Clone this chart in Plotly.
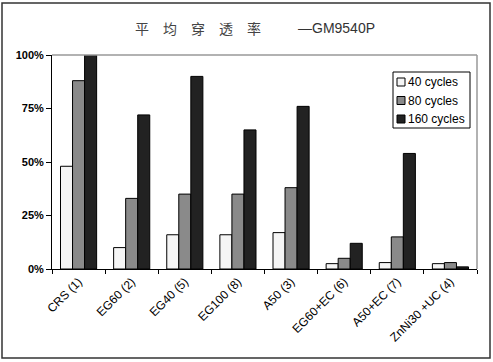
import plotly.graph_objects as go

categories = ["CRS (1)", "EG60 (2)", "EG40 (5)", "EG100 (8)", "A50 (3)",
              "EG60+EC (6)", "A50+EC (7)", "ZnNi30 +UC (4)"]
series_names = ["40 cycles", "80 cycles", "160 cycles"]
v40 = [48, 10, 16, 16, 17, 2.5, 3, 2.5]
v80 = [88, 33, 35, 35, 38, 5, 15, 3]
v160 = [100, 72, 90, 65, 76, 12, 54, 1]
colors = ["#f5f5f5", "#8a8a8a", "#222222"]
ytick_vals = [0, 25, 50, 75, 100]
ytick_text = ["0%", "25%", "50%", "75%", "100%"]

fig = go.Figure()
for name, vals, c in zip(series_names, [v40, v80, v160], colors):
    fig.add_trace(go.Bar(x=categories, y=vals, name=name, showlegend=False,
                         marker=dict(color=c, line=dict(color="#000000", width=1))))

W, H = 493, 362
ml, mr, mt, mb = 52, 16, 55, 93
pw, ph = W - ml - mr, H - mt - mb

def px_x(p):
    return (p - ml) / pw

def px_y(p):
    return (H - mb - p) / ph

shapes = [
    dict(type="line", xref="paper", yref="paper", x0=0, x1=1, y0=1, y1=1,
         line=dict(color="#999999", width=1.5)),
    dict(type="line", xref="paper", yref="paper", x0=1, x1=1, y0=0, y1=1,
         line=dict(color="#999999", width=1.5)),
    dict(type="rect", xref="paper", yref="paper",
         x0=px_x(2), x1=px_x(490), y0=px_y(358), y1=px_y(3),
         line=dict(color="#333333", width=1.5)),
    # legend box
    dict(type="rect", xref="paper", yref="paper",
         x0=px_x(393), x1=px_x(470), y0=px_y(128), y1=px_y(72),
         line=dict(color="#000000", width=1), fillcolor="white"),
]
annotations = [
    dict(text="平\u3000均\u3000穿\u3000透\u3000率", xref="paper", yref="paper",
         x=px_x(198), y=px_y(28), xanchor="center", yanchor="middle",
         showarrow=False,
         font=dict(size=14, color="#444444", family="Noto Sans CJK SC")),
    dict(text="—GM9540P", xref="paper", yref="paper",
         x=px_x(296), y=px_y(28), xanchor="left", yanchor="middle",
         showarrow=False,
         font=dict(size=14, color="#333333", family="Liberation Sans, Arial, sans-serif")),
]
for i, (name, c) in enumerate(zip(series_names, colors)):
    yc = 82 + i * 18.5
    shapes.append(dict(type="rect", xref="paper", yref="paper",
                       x0=px_x(397), x1=px_x(405), y0=px_y(yc + 4), y1=px_y(yc - 4),
                       fillcolor=c, line=dict(color="#000000", width=1)))
    annotations.append(dict(text=name, xref="paper", yref="paper",
                            x=px_x(406), y=px_y(yc), xanchor="left", yanchor="middle",
                            showarrow=False,
                            font=dict(size=12, color="#000000",
                                      family="Liberation Sans, Arial, sans-serif")))

fig.update_layout(
    width=W, height=H,
    margin=dict(l=ml, r=mr, t=mt, b=mb, autoexpand=False),
    paper_bgcolor="white", plot_bgcolor="white",
    barmode="group", bargap=0.32, bargroupgap=0,
    font=dict(family="Liberation Sans, Arial, sans-serif", color="#000000"),
    showlegend=False,
    xaxis=dict(showline=True, linecolor="#000000", linewidth=1,
               ticks="outside", ticklen=4, tickcolor="#000000",
               tickson="boundaries", tickangle=-45, automargin=False,
               tickfont=dict(size=12), showgrid=False),
    yaxis=dict(range=[0, 100], tickvals=ytick_vals, ticktext=ytick_text,
               showline=True, linecolor="#000000", linewidth=1,
               ticks="outside", ticklen=5, tickcolor="#000000", automargin=False,
               tickfont=dict(size=11, family="Liberation Sans, Arial, sans-serif", weight="bold"),
               showgrid=False, zeroline=False),
    shapes=shapes,
    annotations=annotations,
)

fig.write_html("out.html",
               config={"displayModeBar": False},
               post_script="document.body.style.margin='0px';document.body.style.overflow='hidden';")
